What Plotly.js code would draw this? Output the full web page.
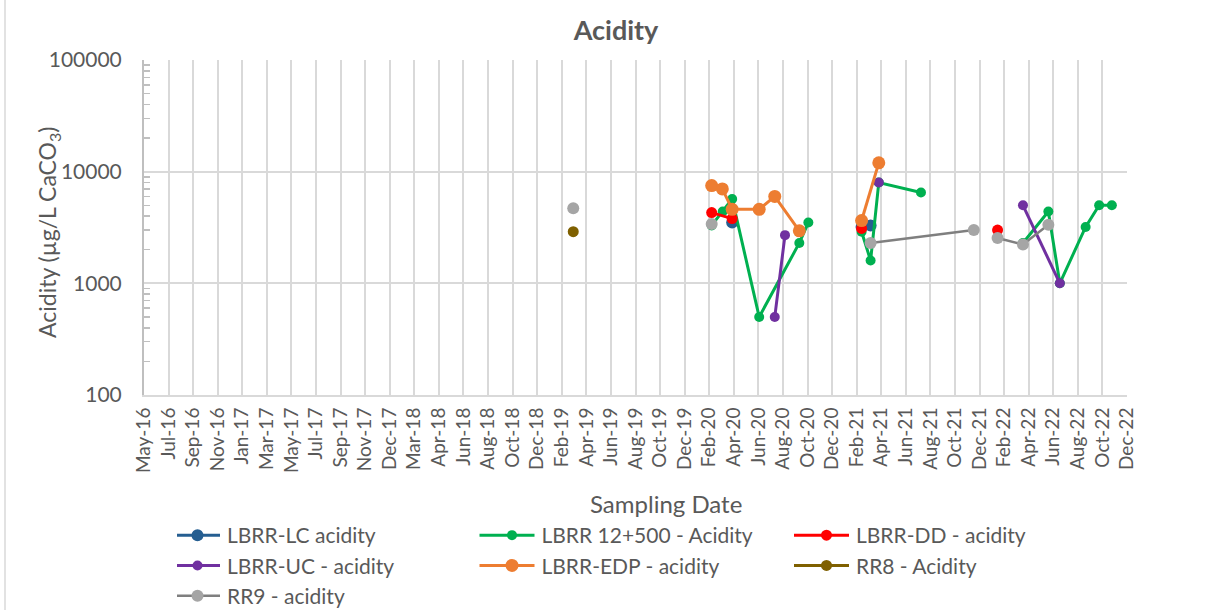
<!DOCTYPE html>
<html>
<head>
<meta charset="utf-8">
<script src="https://cdn.plot.ly/plotly-3.0.1.min.js"></script>
<style>
  html, body { margin: 0; padding: 0; background: #ffffff; }
  #chart { width: 1207px; height: 610px; }
</style>
</head>
<body>
<div id="chart"></div>
<script>
// ---- Data ----
const lcDates   = ['2020-04-15', '2020-11-01', '2021-02-25', '2021-03-19'];
const lcValues  = [3500, null, 3200, 3300];

const g12Dates  = ['2020-02-25', '2020-03-23', '2020-04-15', '2020-06-20', '2020-09-26', '2020-10-18', '2020-12-01',
                   '2021-02-25', '2021-03-19', '2021-04-08', '2021-07-20', '2021-11-01',
                   '2022-03-26', '2022-05-27', '2022-06-24', '2022-08-26', '2022-09-28', '2022-10-29'];
const g12Values = [3300, 4400, 5700, 500, 2300, 3500, null,
                   2900, 1600, 8000, 6500, null,
                   2300, 4400, 1000, 3200, 5000, 5000];

const ddDates   = ['2020-02-25', '2020-04-15', '2020-11-01', '2021-02-25', '2021-08-01', '2022-01-23'];
const ddValues  = [4300, 3800, null, 3100, null, 3000];

const ucDates   = ['2020-07-28', '2020-08-22', '2020-12-01', '2021-04-08', '2021-10-01', '2022-03-26', '2022-06-24'];
const ucValues  = [500, 2700, null, 8000, null, 5000, 1000];

const edpDates  = ['2020-02-25', '2020-03-22', '2020-04-15', '2020-06-20', '2020-07-28', '2020-09-26', '2020-12-01',
                   '2021-02-25', '2021-04-08'];
const edpValues = [7500, 7000, 4600, 4600, 6000, 2950, null,
                   3650, 12000];

const rr8Dates  = ['2019-03-24'];
const rr8Values = [2900];

const rr9Dates  = ['2019-03-24', '2019-10-01', '2020-02-25', '2020-11-01', '2021-03-19', '2021-11-26', '2021-12-20',
                   '2022-01-23', '2022-03-26', '2022-05-27'];
const rr9Values = [4700, null, 3400, null, 2300, 3000, null,
                   2550, 2230, 3350];

const seriesNames = ['LBRR-LC acidity', 'LBRR 12+500 - Acidity', 'LBRR-DD - acidity',
                     'LBRR-UC - acidity', 'LBRR-EDP - acidity', 'RR8 - Acidity', 'RR9 - acidity'];

const xTickLabels = ['May-16','Jul-16','Sep-16','Nov-16','Jan-17','Mar-17','May-17','Jul-17','Sep-17','Nov-17',
                     'Dec-17','Mar-18','Apr-18','Jun-18','Aug-18','Oct-18','Dec-18','Feb-19','Apr-19','Jun-19',
                     'Aug-19','Oct-19','Dec-19','Feb-20','Apr-20','Jun-20','Aug-20','Oct-20','Dec-20','Feb-21',
                     'Apr-21','Jun-21','Aug-21','Oct-21','Dec-21','Feb-22','Apr-22','Jun-22','Aug-22','Oct-22','Dec-22'];
const yTickVals = [100, 1000, 10000, 100000];
const chartTitle = 'Acidity';
const xTitle = 'Sampling Date';
const yTitle = 'Acidity (µg/L CaCO<sub>3</sub>)';

// ---- Axis tick positions: Excel date axis, every 60 days from 10 May 2016 ----
const axisStart = Date.UTC(2016, 4, 10);
const dayMs = 86400000;
function isoDay(ms) { return new Date(ms).toISOString().slice(0, 10); }
const xTickVals = xTickLabels.map((_, i) => isoDay(axisStart + i * 60 * dayMs));
const xRange = [xTickVals[0], xTickVals[xTickVals.length - 1]];

// minor log ticks (2..9 in every decade)
const yMinor = [];
for (let d = 100; d < 100000; d *= 10) for (let k = 2; k <= 9; k++) yMinor.push(d * k);

const FONT = 'Lato, "Liberation Sans", Arial, sans-serif';
const TXT = '#595959';

// plot-area geometry in pixels
const L = 144, R = 80, T = 60, B = 215, W = 1207, H = 610;
const PW = W - L - R, PH = H - T - B;
const px = v => (v - L) / PW;          // pixel x -> paper x
const py = v => (H - B - v) / PH;      // pixel y -> paper y

function tr(name, xs, ys, lineColor, markerColor, msize, lw) {
  return {
    type: 'scatter', mode: 'lines+markers', name: name,
    x: xs, y: ys, connectgaps: false,
    line: { color: lineColor, width: lw },
    marker: { color: markerColor, size: msize, line: { width: 0 } },
    cliponaxis: false
  };
}

const data = [
  tr(seriesNames[0], lcDates,  lcValues,  '#255E91', '#255E91', 12, 3),
  tr(seriesNames[1], g12Dates, g12Values, '#00B050', '#00B050', 10, 3),
  tr(seriesNames[2], ddDates,  ddValues,  '#FF0000', '#FF0000', 11, 3),
  tr(seriesNames[3], ucDates,  ucValues,  '#7030A0', '#7030A0', 10, 3),
  tr(seriesNames[4], edpDates, edpValues, '#ED7D31', '#ED7D31', 13, 3),
  tr(seriesNames[5], rr8Dates, rr8Values, '#7F6000', '#7F6000', 11, 3),
  tr(seriesNames[6], rr9Dates, rr9Values, '#7F7F7F', '#A5A5A5', 12, 2.5)
];

const layout = {
  width: W, height: H,
  paper_bgcolor: '#ffffff', plot_bgcolor: '#ffffff',
  margin: { l: L, r: R, t: T, b: B, autoexpand: false },
  font: { family: FONT, color: TXT },
  title: {
    text: '<b>' + chartTitle + '</b>',
    font: { family: FONT, size: 27, color: TXT },
    x: 616 / W, xref: 'container', xanchor: 'center',
    y: 1 - 31 / H, yref: 'container', yanchor: 'middle'
  },
  xaxis: {
    type: 'date', range: xRange, autorange: false,
    tickmode: 'array', tickvals: xTickVals, ticktext: xTickLabels,
    tickangle: -90, tickfont: { family: FONT, size: 19, color: TXT },
    ticklabelstandoff: 3,
    showgrid: true, gridcolor: '#D9D9D9', gridwidth: 2,
    showline: true, linecolor: '#D9D9D9', linewidth: 2,
    ticks: '', zeroline: false, automargin: false
  },
  yaxis: {
    type: 'log', range: [2, 5], autorange: false,
    tickmode: 'array', tickvals: yTickVals, ticktext: yTickVals.map(String),
    tickfont: { family: FONT, size: 21, color: TXT },
    ticklabelstandoff: 16,
    showgrid: true, gridcolor: '#D9D9D9', gridwidth: 2,
    showline: true, linecolor: '#BFBFBF', linewidth: 2,
    ticks: '', zeroline: false, automargin: false,
    minor: { tickmode: 'array', tickvals: yMinor, ticks: 'inside', ticklen: 6,
             tickcolor: '#BFBFBF', tickwidth: 1.5, showgrid: false }
  },
  annotations: [
    { text: xTitle, xref: 'paper', yref: 'paper', x: px(666), y: py(503),
      xanchor: 'center', yanchor: 'middle', showarrow: false,
      font: { family: FONT, size: 24, color: TXT } },
    { text: yTitle, xref: 'paper', yref: 'paper', x: px(48), y: py(232),
      xanchor: 'center', yanchor: 'middle', showarrow: false, textangle: -90,
      font: { family: FONT, size: 23, color: TXT } }
  ],
  showlegend: true,
  legend: {
    orientation: 'h', x: px(177), xanchor: 'left', y: py(515), yanchor: 'top',
    font: { family: FONT, size: 21, color: TXT },
    entrywidth: 259.5, entrywidthmode: 'pixels',
    traceorder: 'normal', itemwidth: 40, bgcolor: 'rgba(0,0,0,0)'
  },
  shapes: [
    { type: 'line', xref: 'paper', yref: 'paper',
      x0: px(5), x1: px(5), y0: -1, y1: 2,
      line: { color: '#D9D9D9', width: 1.5 } }
  ]
};

Plotly.newPlot('chart', data, layout, { displayModeBar: false, staticPlot: true }).then(gd => {
  // Excel-style legend keys: longer line sample with the marker centred on it
  gd.querySelectorAll('.legend .traces .legendlines path').forEach(p => p.setAttribute('d', 'M-12,0h55'));
  gd.querySelectorAll('.legend .traces .legendpoints').forEach(g => g.setAttribute('transform', 'translate(-4.5,0)'));
});
</script>
</body>
</html>
